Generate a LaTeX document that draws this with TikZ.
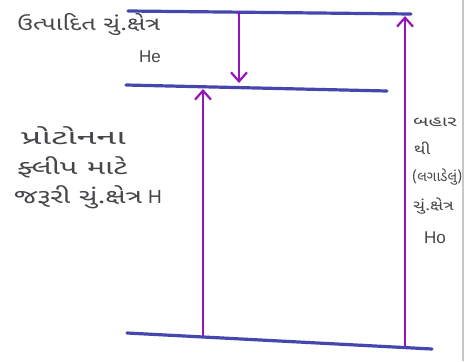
\documentclass[tikz,border=0pt]{standalone}
\usepackage{fontspec}
\setmainfont{Liberation Sans}
\newfontfamily\guj[Script=Gujarati]{Noto Sans Gujarati UI}
\newfontfamily\lat{Liberation Sans}
\usetikzlibrary{arrows.meta}
\definecolor{pen}{RGB}{70,70,175}
\definecolor{arr}{RGB}{150,20,185}
\definecolor{ink}{RGB}{70,70,75}
\newcommand{\wide}[2]{\scalebox{#1}[1]{#2}}
\tikzset{
  level/.style={draw=pen, line width=3.2pt, line cap=round},
  ray/.style={draw=arr, line width=2.2pt, -{Straight Barb[length=9pt,width=16pt,line width=2.2pt]}},
  lbl/.style={text=ink, inner sep=0pt, font=\guj\fontsize{19}{22}\selectfont},
  lblb/.style={text=ink, inner sep=0pt, font=\guj\fontsize{20}{24}\selectfont},
  rlbl/.style={text=ink, inner sep=0pt, font=\guj\fontsize{14}{16}\selectfont},
  latl/.style={text=ink, inner sep=0pt, font=\lat\fontsize{17}{20}\selectfont}
}
\begin{document}
\begin{tikzpicture}[x=1pt,y=-1pt]
\useasboundingbox (0,0) rectangle (470,361);
\fill[white] (0,0) rectangle (470,361);
% paper edge
\draw[black!22, line width=1.2pt] (463,0) -- (463,361);
% energy levels
\coordinate (t1) at (128,11);
\coordinate (t2) at (411,14);
\coordinate (m1) at (126,85);
\coordinate (m2) at (387,91);
\coordinate (b1) at (127,333);
\coordinate (b2) at (432,349);
\draw[level] (t1) -- (t2);
\draw[level] (m1) -- (m2);
\draw[level] (b1) -- (b2);
% arrow anchor points
\coordinate (dTop) at (239,12);
\coordinate (dBot) at (239,83);
\coordinate (lBot) at (203,336);
\coordinate (lTop) at (203,89);
\coordinate (rBot) at (405,346);
\coordinate (rTop) at (405,16);
\draw[ray] (dTop) -- (dBot);
\draw[ray] (lBot) -- (lTop);
\draw[ray] (rBot) -- (rTop);
% labels
\node[lbl, anchor=west] (he1) at (17,25) {\wide{1.34}{ઉત્પાદિત ચું.ક્ષેત્ર}};
\node[latl, anchor=west] (he2) at (139,57) {He};
\node[lblb, anchor=west] (h1) at (21,136) {\wide{1.8}{પ્રોટોનના}};
\node[lblb, anchor=west] (h2) at (17,167) {\wide{1.55}{ફ્લીપ માટે}};
\node[lblb, anchor=west] (h3) at (14,197) {\wide{1.42}{જરૂરી ચું.ક્ષેત્ર} {\lat\fontsize{19}{22}\selectfont H}};
\node[rlbl, anchor=west] (r1) at (413,122) {\wide{1.5}{બહાર}};
\node[rlbl, anchor=west] (r2) at (414,148) {\wide{1.3}{થી}};
\node[rlbl, anchor=west] (r3) at (412,177) {\wide{1.05}{(લગાડેલું)}};
\node[rlbl, anchor=west] (r4) at (413,206) {\wide{1.3}{ચું.ક્ષેત્ર}};
\node[latl, anchor=west] (r5) at (424,238) {Ho};
\end{tikzpicture}
\end{document}
